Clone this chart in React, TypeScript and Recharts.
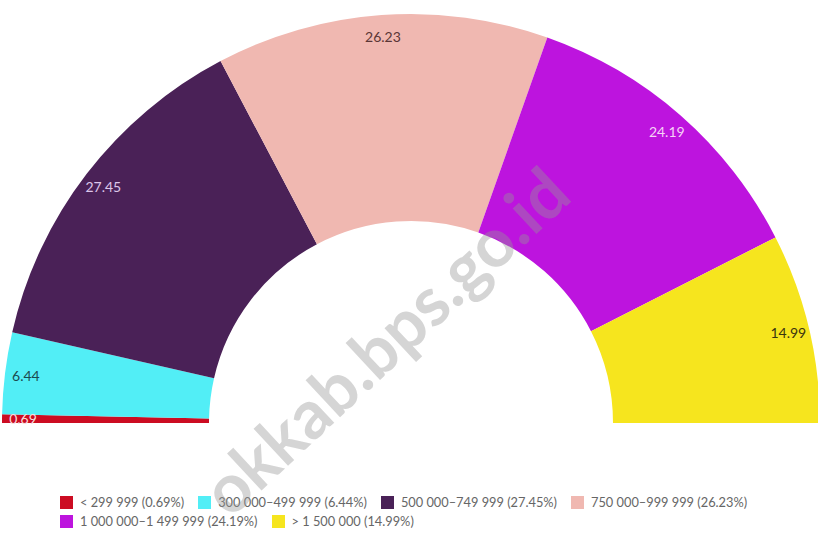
import { PieChart, Pie, Cell } from 'recharts';

const categories = [
  '< 299 999',
  '300 000–499 999',
  '500 000–749 999',
  '750 000–999 999',
  '1 000 000–1 499 999',
  '> 1 500 000',
];
const shares = [0.69, 6.44, 27.45, 26.23, 24.19, 14.99];

const COLORS = ['#cc0c22', '#52eef6', '#4a2157', '#f0b8b1', '#bd14de', '#f6e51e'];
const LABEL_COLORS = ['#f6dede', '#1c4a50', '#dcc6ea', '#5a3636', '#f6d2f6', '#3a3410'];

const data = categories.map((name, i) => ({ name, value: shares[i] }));

const RAD = Math.PI / 180;

const renderLabel = (props: any) => {
  const { cx, cy, midAngle, index } = props;
  const r = 388;
  const x = cx + r * Math.cos(-midAngle * RAD);
  const y = cy + r * Math.sin(-midAngle * RAD);
  return (
    <text
      x={x}
      y={y}
      fill={LABEL_COLORS[index]}
      textAnchor="middle"
      dominantBaseline="central"
      fontSize={14}
      fontFamily="Lato, sans-serif"
    >
      {shares[index].toFixed(2)}
    </text>
  );
};

export default function App() {
  return (
    <div
      style={{
        position: 'absolute',
        left: 0,
        top: 0,
        width: 818,
        height: 536,
        background: '#fff',
        fontFamily: 'Lato, sans-serif',
        overflow: 'hidden',
      }}
    >
      <PieChart width={818} height={536} margin={{ top: 0, right: 0, bottom: 0, left: 0 }}>
        <Pie
          data={data}
          dataKey="value"
          cx={411}
          cy={423}
          startAngle={180}
          endAngle={0}
          innerRadius={202}
          outerRadius={409}
          stroke="none"
          label={renderLabel}
          labelLine={false}
          isAnimationActive={false}
        >
          {data.map((entry, index) => (
            <Cell key={`cell-${index}`} fill={COLORS[index]} />
          ))}
        </Pie>
      </PieChart>

      {/* legend */}
      <div
        style={{
          position: 'absolute',
          left: 60,
          top: 493,
          width: 730,
          display: 'flex',
          flexWrap: 'wrap',
          fontSize: 12.8,
          color: '#666',
          lineHeight: '19px',
        }}
      >
        {categories.map((name, i) => (
          <div key={name} style={{ display: 'flex', alignItems: 'center', marginRight: 14 }}>
            <span
              style={{
                width: 13,
                height: 13,
                background: COLORS[i],
                display: 'inline-block',
                marginRight: 7,
              }}
            />
            <span>{`${name} (${shares[i].toFixed(2)}%)`}</span>
          </div>
        ))}
      </div>

      {/* watermark */}
      <svg
        width={818}
        height={536}
        style={{ position: 'absolute', left: 0, top: 0, pointerEvents: 'none' }}
      >
        <text
          x={384}
          y={340}
          textAnchor="middle"
          dominantBaseline="central"
          fontSize={68}
          fontWeight="bold"
          fontFamily="Lato, sans-serif"
          fill="rgba(150,150,150,0.4)"
          transform="rotate(-43 384 340)"
        >
          okkab.bps.go.id
        </text>
      </svg>
    </div>
  );
}
